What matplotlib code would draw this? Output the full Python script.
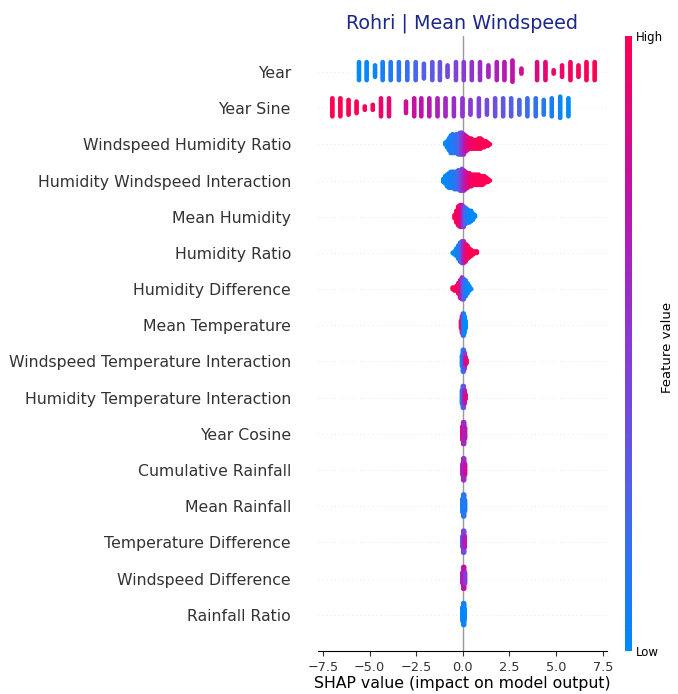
import numpy as np
import matplotlib
matplotlib.use("Agg")
import matplotlib.pyplot as plt
from matplotlib.colors import LinearSegmentedColormap

# feature names, top to bottom
features = [
    "Year", "Year Sine", "Windspeed Humidity Ratio", "Humidity Windspeed Interaction",
    "Mean Humidity", "Humidity Ratio", "Humidity Difference", "Mean Temperature",
    "Windspeed Temperature Interaction", "Humidity Temperature Interaction", "Year Cosine",
    "Cumulative Rainfall", "Mean Rainfall", "Temperature Difference",
    "Windspeed Difference", "Rainfall Ratio",
]

# per feature: SHAP value bins, number of samples in each bin, normalised feature value
year_shap = [-5.57, -5.16, -4.71, -4.30, -3.87, -3.43, -2.98, -2.53, -2.09, -1.64, -1.23, -0.82, -0.37, 0.05,
             0.48, 0.92, 1.37, 1.82, 2.23, 2.66, 3.14, 3.98, 4.43, 4.87, 5.32, 5.77, 6.20, 6.63, 7.07]
year_count = [12, 12, 8, 12, 12, 12, 12, 12, 10, 12, 12, 8, 12, 12,
              12, 12, 8, 12, 12, 14, 4, 12, 12, 3, 8, 12, 8, 12, 12]
year_feat = [0.0, 0.02, 0.04, 0.07, 0.1, 0.14, 0.18, 0.22, 0.27, 0.31, 0.35, 0.4, 0.44, 0.5,
             0.54, 0.58, 0.62, 0.66, 0.7, 0.74, 0.8, 0.88, 0.9, 0.92, 0.94, 0.96, 0.97, 0.98, 1.0]

ysin_shap = [-7.0, -6.57, -6.13, -5.70, -5.26, -4.83, -4.39, -3.96,
             -3.05, -2.61, -2.23, -1.80, -1.36, -0.93, -0.48, -0.02, 0.41, 0.86, 1.29,
             1.73, 2.16, 2.59, 3.03, 3.46, 3.91, 4.34, 4.77, 5.22, 5.66]
ysin_count = [12, 12, 10, 8, 3, 4, 12, 12,
              8, 12, 12, 12, 12, 12, 12, 12, 10, 12, 10,
              12, 12, 12, 10, 12, 12, 10, 12, 14, 12]
ysin_feat = [1.0, 1.0, 0.99, 0.98, 0.97, 0.95, 0.93, 0.9,
             0.8, 0.77, 0.74, 0.7, 0.66, 0.62, 0.58, 0.53, 0.49, 0.45, 0.41,
             0.37, 0.33, 0.28, 0.24, 0.2, 0.16, 0.12, 0.08, 0.04, 0.0]

whr_shap = [-0.95, -0.85, -0.75, -0.65, -0.55, -0.45, -0.35, -0.25, -0.15, -0.05, 0.05, 0.15, 0.25,
            0.35, 0.45, 0.55, 0.65, 0.75, 0.85, 0.95, 1.05, 1.15, 1.25, 1.35, 1.45]
whr_count = [2, 5, 9, 13, 14, 13, 14, 15, 16, 16, 15, 12, 10, 8, 8, 7, 7, 7, 8, 8, 6, 5, 4, 3, 1]
whr_feat = [0.0, 0.02, 0.05, 0.08, 0.1, 0.12, 0.15, 0.2, 0.3, 0.45, 0.6, 0.75, 0.85,
            0.9, 0.93, 0.95, 0.97, 0.98, 1.0, 1.0, 1.0, 1.0, 1.0, 1.0, 1.0]

hwi_shap = [-1.05, -0.95, -0.85, -0.75, -0.65, -0.55, -0.45, -0.35, -0.25, -0.15, -0.05, 0.05, 0.15,
            0.25, 0.35, 0.45, 0.55, 0.65, 0.75, 0.85, 0.95, 1.05, 1.15, 1.25, 1.35, 1.45]
hwi_count = [3, 6, 9, 11, 12, 12, 13, 13, 14, 15, 16, 15, 13, 11, 10, 9, 8, 8, 8, 8, 7, 7, 6, 4, 3, 1]
hwi_feat = [0.0, 0.0, 0.02, 0.04, 0.06, 0.08, 0.1, 0.15, 0.22, 0.32, 0.45, 0.6, 0.72,
            0.82, 0.9, 0.94, 0.96, 0.98, 1.0, 1.0, 1.0, 1.0, 1.0, 1.0, 1.0, 1.0]

mh_shap = [-0.45, -0.35, -0.25, -0.15, -0.05, 0.05, 0.15, 0.25, 0.35, 0.45, 0.55, 0.65]
mh_count = [3, 9, 14, 16, 16, 15, 12, 10, 9, 8, 5, 2]
mh_feat = [1.0, 1.0, 0.97, 0.92, 0.75, 0.45, 0.2, 0.1, 0.05, 0.02, 0.0, 0.0]

hr_shap = [-0.55, -0.45, -0.35, -0.25, -0.15, -0.05, 0.05, 0.15, 0.25, 0.35, 0.45, 0.55, 0.65, 0.75]
hr_count = [1, 3, 6, 10, 14, 16, 16, 13, 10, 7, 5, 3, 2, 2]
hr_feat = [0.0, 0.0, 0.02, 0.05, 0.15, 0.35, 0.6, 0.85, 0.95, 1.0, 1.0, 1.0, 1.0, 1.0]

hd_shap = [-0.55, -0.45, -0.35, -0.25, -0.15, -0.05, 0.05, 0.15, 0.25, 0.35, 0.45]
hd_count = [2, 3, 4, 8, 13, 16, 15, 12, 8, 4, 1]
hd_feat = [1.0, 1.0, 1.0, 0.95, 0.85, 0.6, 0.3, 0.1, 0.03, 0.0, 0.0]

mt_shap = [-0.1, -0.05, 0.0, 0.05, 0.1, 0.15]
mt_count = [6, 12, 16, 16, 12, 6]
mt_feat = [1.0, 0.95, 0.5, 0.1, 0.0, 0.0]

wti_shap = [-0.05, 0.0, 0.05, 0.1, 0.15, 0.2]
wti_count = [8, 16, 16, 12, 6, 3]
wti_feat = [0.05, 0.05, 0.15, 0.45, 0.8, 0.9]

hti_shap = [-0.05, 0.0, 0.05, 0.1, 0.15]
hti_count = [10, 16, 16, 10, 4]
hti_feat = [0.1, 0.2, 0.35, 0.7, 0.85]

yc_shap = [-0.03, 0.02, 0.07, 0.12]
yc_count = [10, 16, 16, 8]
yc_feat = [0.9, 0.75, 0.6, 0.7]

cr_shap = [-0.03, 0.02, 0.07, 0.12]
cr_count = [8, 16, 16, 8]
cr_feat = [0.6, 0.7, 0.55, 0.8]

mr_shap = [-0.03, 0.02, 0.07, 0.12]
mr_count = [10, 16, 16, 8]
mr_feat = [0.05, 0.1, 0.15, 0.1]

td_shap = [-0.03, 0.02, 0.07, 0.1]
td_count = [8, 16, 16, 8]
td_feat = [0.3, 0.5, 0.4, 0.7]

wd_shap = [-0.03, 0.02, 0.07, 0.12]
wd_count = [8, 16, 16, 8]
wd_feat = [0.7, 0.6, 0.75, 0.5]

rr_shap = [-0.03, 0.02, 0.07, 0.1]
rr_count = [10, 16, 16, 8]
rr_feat = [0.0, 0.05, 0.05, 0.02]

rows = [
    (year_shap, year_count, year_feat), (ysin_shap, ysin_count, ysin_feat),
    (whr_shap, whr_count, whr_feat), (hwi_shap, hwi_count, hwi_feat),
    (mh_shap, mh_count, mh_feat), (hr_shap, hr_count, hr_feat),
    (hd_shap, hd_count, hd_feat), (mt_shap, mt_count, mt_feat),
    (wti_shap, wti_count, wti_feat), (hti_shap, hti_count, hti_feat),
    (yc_shap, yc_count, yc_feat), (cr_shap, cr_count, cr_feat),
    (mr_shap, mr_count, mr_feat), (td_shap, td_count, td_feat),
    (wd_shap, wd_count, wd_feat), (rr_shap, rr_count, rr_feat),
]

cmap = LinearSegmentedColormap.from_list(
    "red_blue", ["#008bfb", "#4f63ec", "#8a3ad6", "#c012a8", "#ff0052"])

fig = plt.figure(figsize=(6.78, 6.94), dpi=100)
ax = fig.add_axes([0.469, 0.062, 0.426, 0.8865])

n = len(features)
row_height = 0.4
for i, (vals, counts, feats) in enumerate(rows):
    pos = n - 1 - i
    ax.axhline(y=pos, color="#cccccc", lw=0.5, dashes=(1, 5), zorder=-1)
    xs, ys, cs = [], [], []
    for v, c, f in zip(vals, counts, feats):
        layer = np.arange(c)
        off = np.ceil(layer / 2) * ((layer % 2) * 2 - 1)
        xs += [v] * c
        ys += list(off)
        cs += [f] * c
    ys = np.array(ys, dtype=float)
    ys *= 0.9 * (row_height / np.max(ys + 1))
    ax.scatter(xs, pos + ys, c=cs, cmap=cmap, vmin=0, vmax=1, s=11,
               linewidth=0, alpha=1, zorder=3)

ax.axvline(x=0, color="#999999", lw=1, zorder=-1)

ax.set_xlim(-7.77, 7.72)
ax.set_ylim(-1, n)
ax.set_yticks(range(n))
ax.set_yticklabels(features[::-1], fontsize=11.3, color="#333333")
ax.tick_params("y", length=0, pad=19.5)
ax.set_xticks([-7.5, -5.0, -2.5, 0.0, 2.5, 5.0, 7.5])
ax.tick_params("x", labelsize=9.3, colors="#333333")
ax.xaxis.set_ticks_position("bottom")
for side in ["top", "right", "left"]:
    ax.spines[side].set_visible(False)
ax.set_xlabel("SHAP value (impact on model output)", fontsize=11.3, labelpad=2)
ax.set_title("Rohri | Mean Windspeed", fontsize=13.8, color="#1c2888", pad=5)

# colour bar
cax = fig.add_axes([0.922, 0.062, 0.009, 0.8865])
grad = np.linspace(0, 1, 256).reshape(-1, 1)
cax.imshow(grad, aspect="auto", cmap=cmap, origin="lower", extent=[0, 1, 0, 1])
cax.set_xticks([])
cax.yaxis.tick_right()
cax.set_yticks([0, 1])
cax.set_yticklabels(["Low", "High"], fontsize=8.5)
cax.tick_params("y", length=0, pad=3)
for s in cax.spines.values():
    s.set_visible(False)
fig.text(0.984, 0.5, "Feature value", rotation=90, ha="center", va="center", fontsize=9.5)

fig.savefig("out.png", dpi=100)
